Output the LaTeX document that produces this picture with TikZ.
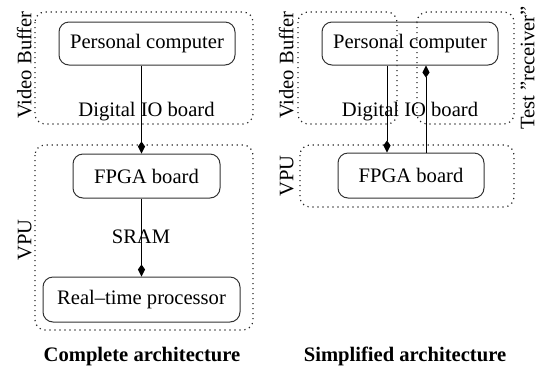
\documentclass[tikz,border=0pt]{standalone}
\usepackage{fontspec}
\setmainfont{Liberation Serif}
\usetikzlibrary{arrows.meta,calc}
\begin{document}
\begin{tikzpicture}[x=0.5pt,y=-0.5pt,
  every node/.style={font=\fontsize{10.3}{12}\selectfont},
  unit/.style={draw=black!80,line width=0.5pt,rounded corners=5pt,inner sep=0pt,align=center},
  group/.style={draw=black!85,line width=0.6pt,dash pattern=on 0.6pt off 1.9pt,rounded corners=5pt},
  link/.style={line width=0.5pt,-{Kite[length=6pt,width=3.6pt,inset=2.5pt]}},
  sidelabel/.style={rotate=90,inner sep=0pt,anchor=south},
  caption/.style={font=\fontsize{10.3}{12}\selectfont\bfseries,anchor=base}]
\useasboundingbox (0,0) rectangle (536,371);
% groups, left panel
\draw[group] (35,12) rectangle (253,124);
\draw[group] (35,145) rectangle (253,330);
% groups, right panel
\draw[group] (298,12) rectangle (397,124);
\draw[group] (417,12) rectangle (514,124);
\draw[group] (300,145) rectangle (514,207);
% side labels
\node[sidelabel] (vbL) at (32,65) {Video Buffer};
\node[sidelabel] (vpuL) at (32,240) {VPU};
\node[sidelabel] (vbR) at (294,65) {Video Buffer};
\node[sidelabel] (vpuR) at (294,176) {VPU};
\node[sidelabel] (test) at (535,68) {Test \char34 receiver\char34};
% units, left panel
\node[unit,minimum width=88pt,minimum height=21.5pt] (pcL) at (147,43.5) {Personal computer};
\node[anchor=base,inner sep=0pt] (dioL) at (146.5,116) {Digital IO board};
\node[unit,minimum width=73.5pt,minimum height=22pt] (fpgaL) at (146.5,176) {FPGA board};
\node[anchor=base,inner sep=0pt] (sram) at (141,243) {SRAM};
\node[unit,minimum width=98.5pt,minimum height=22.5pt] (rt) at (141.5,299.5) {Real--time processor};
% units, right panel
\node[unit,minimum width=88pt,minimum height=21.5pt] (pcR) at (410,43.5) {Personal computer};
\node[anchor=base,inner sep=0pt] (dioR) at (410,116) {Digital IO board};
\node[unit,minimum width=73pt,minimum height=22.5pt] (fpgaR) at (411,175.5) {FPGA board};
% connectors, left panel
\draw[link] (pcL.south -| rt.north) -- (fpgaL.north -| rt.north);
\draw[link] (fpgaL.south -| rt.north) -- (rt.north);
% connectors, right panel
\coordinate (dtop) at ($(pcR.south)+(-23,0)$);
\draw[link] (dtop) -- (dtop |- fpgaR.north);
\coordinate (ubot) at ($(fpgaR.north)+(15,0)$);
\draw[link] (ubot) -- (ubot |- pcR.south);
% captions
\node[caption] (capL) at (142,361) {Complete architecture};
\node[caption] (capR) at (405,361) {Simplified architecture};
\end{tikzpicture}
\end{document}
